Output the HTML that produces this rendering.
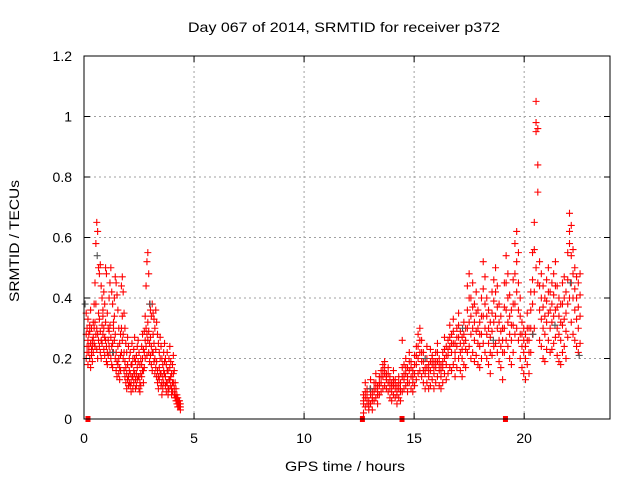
<!DOCTYPE html>
<html><head><meta charset="utf-8"><style>
html,body{margin:0;padding:0;background:#fff;}
svg{display:block;font-family:"Liberation Sans",sans-serif;}
</style></head><body>
<svg id="chart" width="640" height="480" viewBox="0 0 640 480">
<rect x="0" y="0" width="640" height="480" fill="#fff"/>
<g id="grid"></g>
<g id="marks"></g>
<rect x="84" y="56" width="526" height="363" fill="none" stroke="#000" stroke-width="1"/>
<g id="ticks"></g>
<text x="188" y="32" font-size="14" textLength="312" lengthAdjust="spacingAndGlyphs">Day 067 of 2014, SRMTID for receiver p372</text>
<text x="285" y="471" font-size="14" textLength="120" lengthAdjust="spacingAndGlyphs">GPS time / hours</text>
<text x="0" y="0" font-size="14" text-anchor="middle" textLength="122" lengthAdjust="spacingAndGlyphs" transform="translate(19,241) rotate(-90)">SRMTID / TECUs</text>
</svg>
<script>
const xTicks=[0,5,10,15,20];
const yTicks=[0,0.2,0.4,0.6,0.8,1,1.2];
const yTickLabels=["0","0.2","0.4","0.6","0.8","1","1.2"];
const timesA=[0.10,0.14,0.18,0.22,0.26,0.30,0.34,0.38,0.42,0.46,0.50,0.54,0.58,0.62,0.66,0.70,0.74,0.78,0.82,0.86,0.90,0.94,0.98,1.02,1.06,1.10,1.14,1.18,1.22,1.26,1.30,1.34,1.38,1.42,1.46,1.50,1.54,1.58,1.62,1.66,1.70,1.74,1.78,1.82,1.86,1.90,1.94,1.98,2.02,2.06,2.10,2.14,2.18,2.22,2.26,2.30,2.34,2.38,2.42,2.46,2.50,2.54,2.58,2.62,2.66,2.70,2.74,2.78,2.82,2.86,2.90,2.94,2.98,3.02,3.06,3.10,3.14,3.18,3.22,3.26,3.30,3.34,3.38,3.42,3.46,3.50,3.54,3.58,3.62,3.66,3.70,3.74,3.78,3.82,3.86,3.90,3.94,3.98,4.02,4.06,4.10,4.14,4.18,4.22,4.26,4.30,4.34,4.38];
const valuesA1=[.35,.30,.33,.28,.31,.36,.30,.26,.32,.38,.45,.58,.65,.62,.50,.48,.51,.44,.40,.36,.42,.38,.50,.48,.35,.30,.40,.45,.50,.42,.38,.32,.40,.47,.45,.41,.36,.30,.25,.28,.44,.47,.42,.35,.30,.25,.22,.27,.24,.20,.22,.18,.25,.20,.23,.27,.19,.21,.24,.26,.22,.18,.20,.24,.28,.23,.29,.34,.44,.52,.55,.48,.38,.36,.34,.38,.35,.33,.30,.36,.32,.28,.25,.22,.27,.24,.20,.18,.22,.25,.20,.18,.22,.16,.20,.24,.19,.15,.18,.21,.16,.12,.10,.08,.07,.06,.06,.05];
const valuesA2=[.28,.24,.26,.22,.29,.25,.21,.24,.27,.30,.32,.38,.30,.28,.35,.33,.29,.26,.31,.34,.30,.27,.32,.24,.22,.26,.29,.31,.27,.24,.25,.30,.34,.28,.22,.19,.24,.20,.17,.21,.30,.34,.28,.22,.19,.17,.15,.18,.14,.16,.15,.12,.18,.14,.16,.20,.13,.15,.17,.19,.14,.12,.15,.18,.20,.16,.22,.26,.30,.28,.32,.29,.25,.27,.24,.22,.28,.25,.20,.23,.19,.16,.14,.17,.20,.15,.12,.14,.16,.19,.14,.12,.16,.10,.13,.17,.14,.10,.12,.15,.10,.08,.07,.06,.05,.05,.05,.04];
const valuesA3=[.20,.22,.18,.24,.20,.17,.23,.19,.22,.25,.24,.28,.23,.20,.26,.24,.22,.20,.25,.28,.23,.21,.26,.19,.18,.21,.24,.22,.20,.18,.17,.22,.26,.20,.16,.14,.18,.15,.13,.16,.22,.26,.20,.16,.14,.12,.10,.13,.11,.12,.11,.09,.14,.10,.12,.15,.10,.11,.13,.14,.10,.09,.11,.14,.16,.12,.17,.20,.24,.21,.26,.22,.19,.21,.18,.16,.22,.19,.15,.17,.14,.12,.10,.13,.15,.11,.08,.10,.12,.15,.11,.09,.12,.08,.10,.13,.11,.08,.09,.12,.08,.07,.06,.05,.04,.04,.04,.03];
const timesB=[12.70,12.78,12.86,12.94,13.02,13.10,13.18,13.26,13.34,13.42,13.50,13.58,13.66,13.74,13.82,13.90,13.98,14.06,14.14,14.22,14.30,14.38,14.46,14.54,14.62,14.70,14.78,14.86,14.94,15.02,15.10,15.18,15.26,15.34,15.42,15.50,15.58,15.66,15.74,15.82,15.90,15.98,16.06,16.14,16.22,16.30,16.38,16.46,16.54,16.62,16.70,16.78,16.86,16.94,17.02,17.10,17.18,17.26,17.34,17.42,17.50,17.58,17.66,17.74,17.82,17.90,17.98,18.06,18.14,18.22,18.30,18.38,18.46,18.54,18.62,18.70,18.78,18.86,18.94,19.02,19.10,19.18,19.26,19.34,19.42,19.50,19.58,19.66,19.74,19.82,19.90,19.98,20.06,20.14,20.22,20.30,20.38,20.46,20.54,20.62,20.70,20.78,20.86,20.94,21.02,21.10,21.18,21.26,21.34,21.42,21.50,21.58,21.66,21.74,21.82,21.90,21.98,22.06,22.14,22.22,22.30,22.38,22.46,22.54];
const valuesB1=[.08,.12,.10,.06,.13,.09,.12,.15,.11,.14,.16,.18,.19,.15,.17,.14,.12,.16,.13,.11,.14,.12,.26,.18,.20,.17,.22,.19,.16,.21,.24,.28,.30,.26,.22,.20,.24,.18,.23,.21,.19,.22,.25,.20,.18,.22,.27,.24,.26,.31,.28,.33,.25,.30,.35,.29,.27,.32,.30,.44,.48,.40,.45,.38,.42,.36,.32,.40,.52,.47,.40,.36,.32,.42,.46,.50,.44,.38,.34,.30,.45,.54,.48,.41,.36,.46,.58,.62,.55,.40,.32,.30,.28,.35,.30,.42,.55,.56,1.05,.96,.52,.48,.44,.40,.46,.50,.42,.45,.48,.52,.44,.40,.38,.45,.47,.42,.55,.68,.64,.56,.50,.47,.45,.48];
const valuesB2=[.05,.07,.09,.04,.08,.06,.09,.10,.08,.11,.12,.14,.15,.13,.12,.10,.09,.11,.10,.08,.10,.09,.14,.13,.15,.12,.16,.14,.12,.15,.18,.20,.22,.19,.16,.15,.17,.14,.16,.18,.15,.17,.19,.16,.14,.17,.20,.18,.21,.24,.22,.25,.20,.24,.27,.22,.20,.25,.23,.30,.32,.28,.30,.26,.29,.25,.24,.28,.34,.30,.28,.25,.22,.29,.32,.34,.30,.26,.24,.22,.30,.36,.32,.28,.26,.31,.38,.42,.36,.28,.24,.22,.20,.26,.22,.30,.38,.42,.98,.84,.36,.33,.30,.28,.32,.35,.30,.32,.34,.36,.30,.28,.26,.31,.33,.29,.38,.58,.45,.40,.36,.33,.30,.34];
const valuesB3=[.02,.04,.05,.03,.05,.03,.06,.07,.05,.08,.09,.10,.11,.10,.09,.07,.06,.08,.07,.05,.07,.06,.09,.10,.11,.09,.12,.10,.09,.11,.13,.15,.16,.14,.12,.10,.12,.10,.11,.13,.10,.12,.14,.11,.10,.12,.15,.13,.15,.17,.16,.18,.14,.17,.20,.16,.14,.18,.17,.22,.24,.20,.22,.19,.21,.18,.17,.20,.25,.22,.20,.18,.15,.21,.24,.25,.22,.19,.17,.13,.22,.26,.24,.20,.18,.22,.28,.30,.26,.20,.17,.15,.13,.18,.15,.22,.28,.30,.95,.75,.26,.24,.20,.19,.23,.26,.22,.23,.25,.27,.21,.19,.18,.22,.24,.20,.27,.40,.32,.28,.26,.24,.22,.25];
const valuesB4=[.06,.09,.07,.05,.10,.07,.10,.12,.09,.12,.14,.16,.17,.14,.15,.12,.11,.13,.12,.09,.12,.10,.17,.15,.17,.14,.19,.17,.14,.18,.21,.24,.26,.22,.19,.17,.20,.16,.19,.20,.17,.19,.22,.18,.16,.19,.23,.21,.23,.27,.25,.29,.22,.27,.31,.25,.23,.28,.26,.36,.40,.34,.37,.32,.35,.30,.28,.34,.43,.38,.34,.30,.27,.35,.39,.42,.37,.32,.29,.26,.37,.45,.40,.34,.31,.38,.48,.52,.45,.34,.28,.26,.24,.30,.26,.36,.46,.65,.50,.45,.44,.40,.37,.34,.39,.42,.36,.38,.41,.44,.37,.34,.32,.38,.40,.35,.46,.62,.54,.48,.43,.40,.37,.41];
const grayTimes=[0.05,0.6,1.3,3.0,13.0,15.5,17.2,18.6,20.4,21.4,22.1,22.5];
const grayValues=[0.38,0.54,0.22,0.38,0.10,0.20,0.30,0.26,0.28,0.31,0.45,0.21];
const gapTimes=[0.18,12.65,14.45,19.15];

const X0=84,X1=610,Y0=419,Y1=56,XMAX=23.9,YMAX=1.2;
const xs=t=>X0+(t/XMAX)*(X1-X0);
const ys=v=>Y0-(v/YMAX)*(Y0-Y1);
const NS="http://www.w3.org/2000/svg";
const grid=document.getElementById('grid'),ticks=document.getElementById('ticks'),marks=document.getElementById('marks');
function mk(tag,attrs,parent){const e=document.createElementNS(NS,tag);for(const k in attrs)e.setAttribute(k,attrs[k]);parent.appendChild(e);return e;}
xTicks.forEach(t=>{
  const x=xs(t);
  if(t>0){const g=mk('line',{x1:x,x2:x,y1:Y1,y2:Y0,stroke:'#a0a0a0','stroke-dasharray':'2,3'},grid);
    
    }
  const a=mk('line',{x1:x,x2:x,y1:Y0,y2:Y0-6,stroke:'#000'},ticks);
  
  
  const b=mk('line',{x1:x,x2:x,y1:Y1,y2:Y1+6,stroke:'#000'},ticks);
  
  
  const l=mk('text',{x:x,y:443,'font-size':'14','text-anchor':'middle'},ticks);l.textContent=String(t);
  
  
});
yTicks.forEach((v,i)=>{
  const y=ys(v);
  if(v>0&&v<1.2){const g=mk('line',{x1:X0,x2:X1,y1:y,y2:y,stroke:'#a0a0a0','stroke-dasharray':'2,3'},grid);
    
    }
  const a=mk('line',{x1:X0,x2:X0+6,y1:y,y2:y,stroke:'#000'},ticks);
  
  
  const b=mk('line',{x1:X1,x2:X1-6,y1:y,y2:y,stroke:'#000'},ticks);
  
  
  const l=mk('text',{x:72,y:y+5,'font-size':'14','text-anchor':'end'},ticks);l.textContent=yTickLabels[i];
  
  
});
function plus(t,v,color,name){
  const x=xs(t),y=ys(v);
  const p=mk('path',{d:`M${x-3.5},${y}h7M${x},${y-3.5}v7`,stroke:color,'stroke-width':'1.1',fill:'none'},marks);
  
  
}
[valuesA1,valuesA2,valuesA3].forEach(arr=>arr.forEach((v,i)=>plus(timesA[i],v,'#f00','srmtid-point')));
[valuesB1,valuesB2,valuesB3,valuesB4].forEach(arr=>arr.forEach((v,i)=>plus(timesB[i],v,'#f00','srmtid-point')));
grayTimes.forEach((t,i)=>plus(t,grayValues[i],'#555','srmtid-gray-point'));
gapTimes.forEach(t=>{
  const r=mk('rect',{x:xs(t)-2.5,y:Y0-3,width:5,height:6,fill:'#f00'},marks);
  
  
});
</script>
</body></html>
